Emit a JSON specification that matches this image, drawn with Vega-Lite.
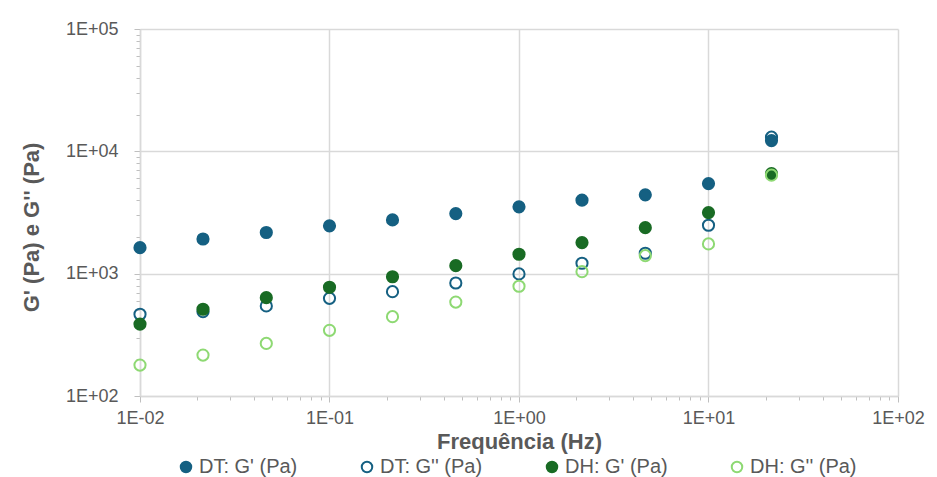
{
  "$schema": "https://vega.github.io/schema/vega-lite/v6.json",
  "width": 758,
  "height": 367,
  "autosize": {"type": "none"},
  "padding": {"left": 140, "top": 29, "right": 39, "bottom": 81},
  "background": "white",
  "config": {
    "view": {"stroke": null},
    "font": "Liberation Sans",
    "axis": {
      "domainColor": "#d9d9d9",
      "domainWidth": 1.5,
      "gridColor": "#d9d9d9",
      "gridWidth": 1.5,
      "tickColor": "#bfbfbf",
      "tickWidth": 1,
      "labelColor": "#595959",
      "labelFont": "Liberation Sans",
      "labelFontSize": 18,
      "titleColor": "#595959",
      "titleFont": "Liberation Sans",
      "titleFontSize": 22,
      "titleFontWeight": "bold",
      "labelOverlap": false,
      "labelFlush": false
    }
  },
  "data": {
    "values": [
      {"f": 0.01, "v": 1630, "s": "DT: G' (Pa)"},
      {"f": 0.0215, "v": 1920, "s": "DT: G' (Pa)"},
      {"f": 0.0464, "v": 2170, "s": "DT: G' (Pa)"},
      {"f": 0.1, "v": 2460, "s": "DT: G' (Pa)"},
      {"f": 0.215, "v": 2750, "s": "DT: G' (Pa)"},
      {"f": 0.464, "v": 3100, "s": "DT: G' (Pa)"},
      {"f": 1, "v": 3520, "s": "DT: G' (Pa)"},
      {"f": 2.15, "v": 3990, "s": "DT: G' (Pa)"},
      {"f": 4.64, "v": 4410, "s": "DT: G' (Pa)"},
      {"f": 10, "v": 5450, "s": "DT: G' (Pa)"},
      {"f": 21.5, "v": 12250, "s": "DT: G' (Pa)"},
      {"f": 0.01, "v": 466, "s": "DT: G'' (Pa)"},
      {"f": 0.0215, "v": 489, "s": "DT: G'' (Pa)"},
      {"f": 0.0464, "v": 545, "s": "DT: G'' (Pa)"},
      {"f": 0.1, "v": 629, "s": "DT: G'' (Pa)"},
      {"f": 0.215, "v": 713, "s": "DT: G'' (Pa)"},
      {"f": 0.464, "v": 839, "s": "DT: G'' (Pa)"},
      {"f": 1, "v": 995, "s": "DT: G'' (Pa)"},
      {"f": 2.15, "v": 1217, "s": "DT: G'' (Pa)"},
      {"f": 4.64, "v": 1468, "s": "DT: G'' (Pa)"},
      {"f": 10, "v": 2489, "s": "DT: G'' (Pa)"},
      {"f": 21.5, "v": 13060, "s": "DT: G'' (Pa)"},
      {"f": 0.01, "v": 387, "s": "DH: G' (Pa)"},
      {"f": 0.0215, "v": 512, "s": "DH: G' (Pa)"},
      {"f": 0.0464, "v": 637, "s": "DH: G' (Pa)"},
      {"f": 0.1, "v": 774, "s": "DH: G' (Pa)"},
      {"f": 0.215, "v": 944, "s": "DH: G' (Pa)"},
      {"f": 0.464, "v": 1162, "s": "DH: G' (Pa)"},
      {"f": 1, "v": 1441, "s": "DH: G' (Pa)"},
      {"f": 2.15, "v": 1794, "s": "DH: G' (Pa)"},
      {"f": 4.64, "v": 2378, "s": "DH: G' (Pa)"},
      {"f": 10, "v": 3157, "s": "DH: G' (Pa)"},
      {"f": 21.5, "v": 6580, "s": "DH: G' (Pa)"},
      {"f": 0.01, "v": 179, "s": "DH: G'' (Pa)"},
      {"f": 0.0215, "v": 216, "s": "DH: G'' (Pa)"},
      {"f": 0.0464, "v": 269, "s": "DH: G'' (Pa)"},
      {"f": 0.1, "v": 344, "s": "DH: G'' (Pa)"},
      {"f": 0.215, "v": 445, "s": "DH: G'' (Pa)"},
      {"f": 0.464, "v": 586, "s": "DH: G'' (Pa)"},
      {"f": 1, "v": 789, "s": "DH: G'' (Pa)"},
      {"f": 2.15, "v": 1038, "s": "DH: G'' (Pa)"},
      {"f": 4.64, "v": 1403, "s": "DH: G'' (Pa)"},
      {"f": 10, "v": 1750, "s": "DH: G'' (Pa)"},
      {"f": 21.5, "v": 6380, "s": "DH: G'' (Pa)"}
    ]
  },
  "mark": {"type": "point", "shape": "circle", "size": 125, "strokeWidth": 2, "opacity": 1},
  "encoding": {
    "x": {
      "field": "f",
      "type": "quantitative",
      "scale": {"type": "log", "domain": [0.01, 100], "nice": false},
      "axis": {
        "title": "Frequência (Hz)",
        "values": [0.01,0.02,0.03,0.04,0.05,0.06,0.07,0.08,0.09,0.1,0.2,0.3,0.4,0.5,0.6,0.7,0.8,0.9,1,2,3,4,5,6,7,8,9,10,20,30,40,50,60,70,80,90,100],
        "labelExpr": "abs(log(datum.value)/LN10 - round(log(datum.value)/LN10)) < 0.000001 ? '1E' + (round(log(datum.value)/LN10) >= 0 ? '+' : '-') + (abs(round(log(datum.value)/LN10)) < 10 ? '0' : '') + abs(round(log(datum.value)/LN10)) : ''",
        "gridOpacity": {"condition": {"test": "abs(log(datum.value)/LN10 - round(log(datum.value)/LN10)) < 0.000001", "value": 1}, "value": 0},
        "tickSize": {"condition": {"test": "abs(log(datum.value)/LN10 - round(log(datum.value)/LN10)) < 0.000001", "value": 6}, "value": 4},
        "labelPadding": 7,
        "titleY": 52,
        "titleBaseline": "alphabetic"
      }
    },
    "y": {
      "field": "v",
      "type": "quantitative",
      "scale": {"type": "log", "domain": [100, 100000], "nice": false},
      "axis": {
        "title": "G' (Pa) e G'' (Pa)",
        "values": [100,200,300,400,500,600,700,800,900,1000,2000,3000,4000,5000,6000,7000,8000,9000,10000,20000,30000,40000,50000,60000,70000,80000,90000,100000],
        "labelExpr": "abs(log(datum.value)/LN10 - round(log(datum.value)/LN10)) < 0.000001 ? '1E' + (round(log(datum.value)/LN10) >= 0 ? '+' : '-') + (abs(round(log(datum.value)/LN10)) < 10 ? '0' : '') + abs(round(log(datum.value)/LN10)) : ''",
        "gridOpacity": {"condition": {"test": "abs(log(datum.value)/LN10 - round(log(datum.value)/LN10)) < 0.000001", "value": 1}, "value": 0},
        "tickSize": {"condition": {"test": "abs(log(datum.value)/LN10 - round(log(datum.value)/LN10)) < 0.000001", "value": 6}, "value": 4},
        "labelPadding": 16,
        "titleX": -109,
        "titleY": 198,
        "titleAngle": -90,
        "titleAlign": "center",
        "titleBaseline": "middle"
      }
    },
    "fill": {
      "field": "s",
      "type": "nominal",
      "scale": {
        "domain": ["DT: G' (Pa)", "DT: G'' (Pa)", "DH: G' (Pa)", "DH: G'' (Pa)"],
        "range": ["#156082", "transparent", "#196B24", "transparent"]
      },
      "legend": {
        "title": null,
        "orient": "none",
        "direction": "horizontal",
        "columns": 4,
        "legendX": 36,
        "legendY": 428,
        "labelFontSize": 20,
        "labelColor": "#595959",
        "labelFont": "Liberation Sans",
        "symbolSize": 110,
        "symbolStrokeWidth": 2,
        "symbolOffset": 0,
        "labelOffset": 3,
        "columnPadding": 59
      }
    },
    "stroke": {
      "field": "s",
      "type": "nominal",
      "scale": {
        "domain": ["DT: G' (Pa)", "DT: G'' (Pa)", "DH: G' (Pa)", "DH: G'' (Pa)"],
        "range": ["#156082", "#156082", "#196B24", "#8ED973"]
      }
    }
  }
}
